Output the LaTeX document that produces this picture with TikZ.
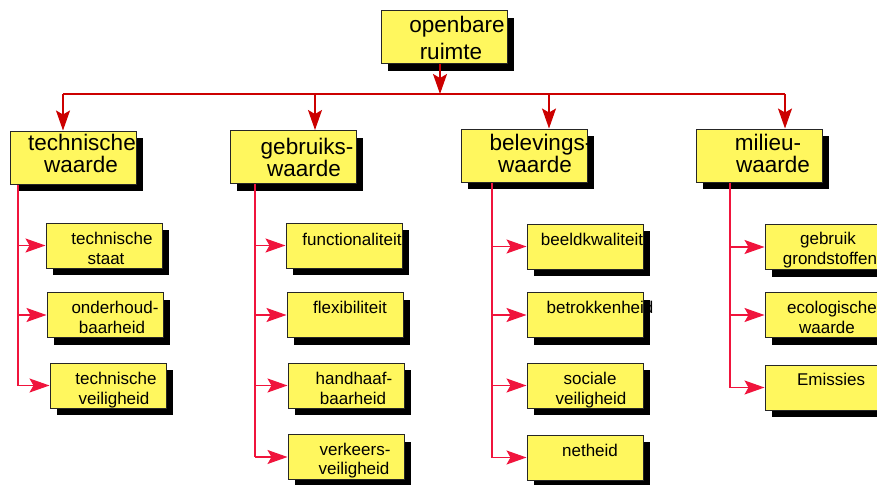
\documentclass[tikz,border=0pt]{standalone}
\usepackage{fontspec}
\setmainfont{Liberation Sans}
\usetikzlibrary{shadows,arrows.meta}
\definecolor{boxyellow}{RGB}{255,247,94}
\definecolor{topred}{RGB}{204,0,0}
\definecolor{subred}{RGB}{240,20,60}
\begin{document}
\begin{tikzpicture}[x=1pt,y=-1pt,
  box/.style={draw=black!85, line width=1pt, fill=boxyellow, minimum width=116pt, minimum height=45pt, inner sep=0pt,
    drop shadow={shadow xshift=7pt, shadow yshift=-7pt, fill=black, opacity=1}},
  bigbox/.style={box, minimum width=126pt, minimum height=53pt},
  lbl/.style={anchor=base, inner sep=0pt, font=\fontsize{17}{20}\selectfont},
  biglbl/.style={anchor=base, inner sep=0pt, font=\fontsize{22.5}{26}\selectfont},
  toparr/.style={draw=topred, line width=1.3pt, -{Stealth[length=20pt,width=14pt,inset=4pt]}},
  topline/.style={draw=topred, line width=1.3pt},
  subarr/.style={draw=subred, line width=1.3pt, -{Stealth[length=20pt,width=14pt,inset=4pt]}},
  subline/.style={draw=subred, line width=1.3pt},
]
\path[use as bounding box, fill=white] (0,0) rectangle (877,484);

% boxes
\node[bigbox] (top) at (444,37.5) {};
\node[bigbox] (tw) at (73,157.5) {};
\node[bigbox] (gw) at (293,157) {};
\node[bigbox] (bw) at (524,155.5) {};
\node[bigbox] (mw) at (759,155.5) {};

\node[box] (ts) at (104,245.5) {};
\node[box] (oh) at (105,315) {};
\node[box] (tv) at (108,385.5) {};

\node[box] (fu) at (344,245.5) {};
\node[box] (fl) at (345,315) {};
\node[box] (hh) at (346,385.5) {};
\node[box] (vv) at (346,457) {};

\node[box] (bk) at (585,246.5) {};
\node[box] (bt) at (585,315) {};
\node[box] (sv) at (585,385.5) {};
\node[box] (nh) at (585,457.5) {};

\node[box] (gg) at (823,247) {};
\node[box] (ew) at (823,315) {};
\node[box] (em) at (823,387.5) {};

% labels
\node[biglbl] (topa) at (457,33) {openbare};
\node[biglbl] (topb) at (451,60) {ruimte};
\node[biglbl] (twa) at (82,150) {technische};
\node[biglbl] (twb) at (81,172) {waarde};
\node[biglbl] (gwa) at (307,154) {gebruiks-};
\node[biglbl] (gwb) at (304,176) {waarde};
\node[biglbl] (bwa) at (541,150) {belevings-};
\node[biglbl] (bwb) at (535,172) {waarde};
\node[biglbl] (mwa) at (768,150) {milieu-};
\node[biglbl] (mwb) at (773,172) {waarde};

\node[lbl] (tsa) at (112,244) {technische};
\node[lbl] (tsb) at (106,264) {staat};
\node[lbl] (oha) at (115,313) {onderhoud-};
\node[lbl] (ohb) at (112,333) {baarheid};
\node[lbl] (tva) at (116,384) {technische};
\node[lbl] (tvb) at (114,404) {veiligheid};

\node[lbl] (fua) at (352,245) {functionaliteit};
\node[lbl] (fla) at (350,313) {flexibiliteit};
\node[lbl] (hha) at (354,384) {handhaaf-};
\node[lbl] (hhb) at (353,404) {baarheid};
\node[lbl] (vva) at (355,455) {verkeers-};
\node[lbl] (vvb) at (354,474) {veiligheid};

\node[lbl] (bka) at (592,245) {beeldkwaliteit};
\node[lbl] (bta) at (600,313) {betrokkenheid};
\node[lbl] (sva) at (590,384) {sociale};
\node[lbl] (svb) at (591,404) {veiligheid};
\node[lbl] (nha) at (590,456) {netheid};

\node[lbl] (gga) at (828,244) {gebruik};
\node[lbl] (ggb) at (830,264) {grondstoffen};
\node[lbl] (ewa) at (832,313) {ecologische};
\node[lbl] (ewb) at (827,333) {waarde};
\node[lbl] (ema) at (831,385) {Emissies};

% top level connectors
\coordinate (hub) at (440,94);
\coordinate (b1) at (63,94);
\coordinate (b2) at (315,94);
\coordinate (b3) at (549,94);
\coordinate (b4) at (785,94);
\draw[toparr] (hub |- top.south) -- (hub);
\draw[topline] (b1) -- (b4);
\draw[toparr] (b1) -- (b1 |- tw.north);
\draw[toparr] (b2) -- (b2 |- gw.north);
\draw[toparr] (b3) -- (b3 |- bw.north);
\draw[toparr] (b4) -- (b4 |- mw.north);

% column connectors
\coordinate (c1) at (18,0);
\coordinate (c2) at (255,0);
\coordinate (c3) at (492,0);
\coordinate (c4) at (730,0);
\draw[subline] (c1 |- tw.south) -- (c1 |- tv.west);
\draw[subarr] (c1 |- ts.west) -- (ts.west);
\draw[subarr] (c1 |- oh.west) -- (oh.west);
\draw[subarr] (c1 |- tv.west) -- (tv.west);

\draw[subline] (c2 |- gw.south) -- (c2 |- vv.west);
\draw[subarr] (c2 |- fu.west) -- (fu.west);
\draw[subarr] (c2 |- fl.west) -- (fl.west);
\draw[subarr] (c2 |- hh.west) -- (hh.west);
\draw[subarr] (c2 |- vv.west) -- (vv.west);

\draw[subline] (c3 |- bw.south) -- (c3 |- nh.west);
\draw[subarr] (c3 |- bk.west) -- (bk.west);
\draw[subarr] (c3 |- bt.west) -- (bt.west);
\draw[subarr] (c3 |- sv.west) -- (sv.west);
\draw[subarr] (c3 |- nh.west) -- (nh.west);

\draw[subline] (c4 |- mw.south) -- (c4 |- em.west);
\draw[subarr] (c4 |- gg.west) -- (gg.west);
\draw[subarr] (c4 |- ew.west) -- (ew.west);
\draw[subarr] (c4 |- em.west) -- (em.west);
\end{tikzpicture}
\end{document}
